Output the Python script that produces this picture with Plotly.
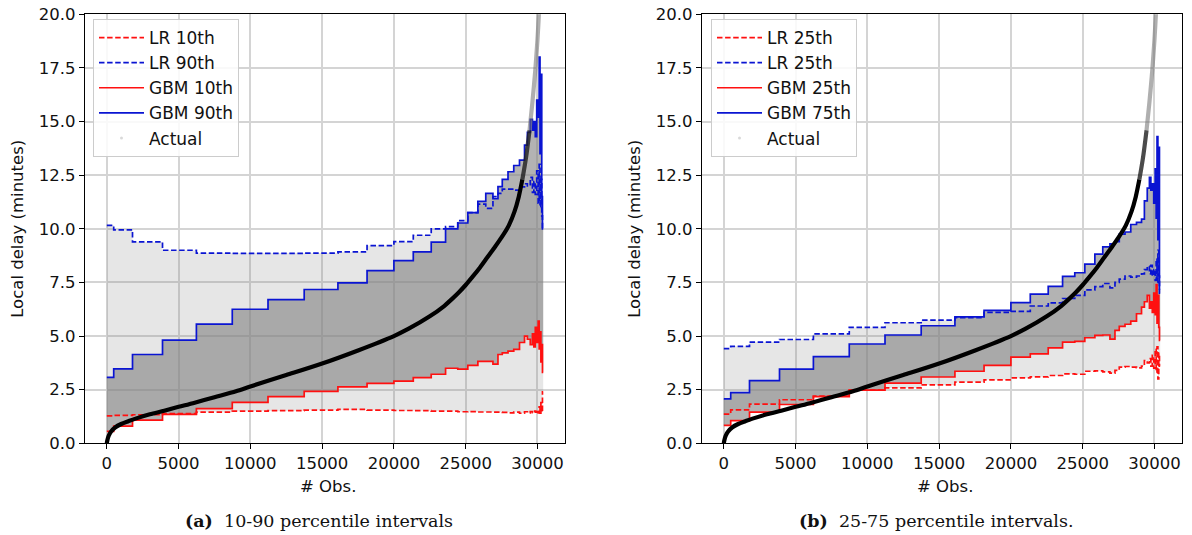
import plotly.graph_objects as go

# ---------------- data ----------------
# bin edges (# Obs.) shared by the step-wise percentile predictions
edges = [0, 480, 1790, 3880, 6240, 8740, 11230, 13750, 16100, 18130,
         20000, 21350, 22600, 23600, 24450, 25150, 25850, 26400, 26900, 27250,
         27550, 27950, 28350, 28750, 29100, 29300, 29500, 29650, 29750, 29850,
         29950, 30050, 30120, 30180, 30240, 30300, 30350, 30400]

# panel (a): 10-90 percentile intervals
a_lr10 = [1.28, 1.30, 1.33, 1.38, 1.45, 1.50, 1.52, 1.55, 1.58, 1.55,
          1.53, 1.52, 1.50, 1.50, 1.47, 1.48, 1.46, 1.46, 1.45, 1.45,
          1.44, 1.42, 1.45, 1.40, 1.47, 1.42, 1.48, 1.43, 1.50, 1.45,
          1.55, 1.42, 1.70, 1.40, 1.90, 1.45, 2.40]
a_lr90 = [10.16, 9.95, 9.39, 9.00, 8.87, 8.85, 8.85, 8.87, 8.92, 9.22,
          9.40, 9.70, 10.00, 10.10, 10.38, 10.75, 11.15, 10.95, 11.50, 11.65,
          11.85, 11.85, 11.80, 11.95, 12.10, 12.00, 12.40, 11.70, 12.20, 11.60,
          12.70, 11.20, 13.00, 11.00, 12.30, 10.60, 10.00]
a_gbm10 = [0.56, 0.80, 1.08, 1.35, 1.62, 1.91, 2.18, 2.42, 2.63, 2.79,
           2.90, 3.06, 3.22, 3.50, 3.46, 3.63, 3.82, 3.82, 3.69, 4.14,
           4.22, 4.30, 4.38, 4.70, 5.00, 4.85, 4.60, 5.10, 4.50, 5.40,
           4.70, 5.70, 4.40, 5.20, 3.80, 4.60, 3.30]
a_gbm90 = [3.07, 3.47, 4.14, 4.81, 5.56, 6.25, 6.70, 7.17, 7.48, 8.05,
           8.52, 8.92, 9.38, 10.00, 10.27, 10.75, 11.28, 11.65, 11.40, 11.97,
           12.30, 12.66, 12.95, 13.20, 13.90, 14.50, 15.10, 14.60, 15.00, 14.30,
           16.00, 15.20, 18.00, 13.50, 17.20, 11.50, 10.00]

# panel (b): 25-75 percentile intervals
b_lr25 = [1.36, 1.56, 1.83, 2.03, 2.20, 2.48, 2.58, 2.72, 2.85, 2.96,
          3.05, 3.10, 3.16, 3.24, 3.22, 3.36, 3.38, 3.33, 3.27, 3.40,
          3.55, 3.58, 3.55, 3.52, 3.60, 3.86, 3.75, 3.95, 3.60, 4.10,
          3.50, 4.40, 3.30, 4.50, 3.00, 4.20, 3.60]
b_lr75 = [4.41, 4.52, 4.72, 4.84, 5.10, 5.40, 5.62, 5.74, 5.86, 6.10,
          6.15, 6.40, 6.55, 6.75, 6.90, 7.15, 7.30, 7.45, 7.25, 7.50,
          7.65, 7.80, 7.75, 7.80, 7.90, 8.10, 8.25, 7.90, 8.30, 7.80,
          8.10, 7.60, 8.60, 7.50, 9.00, 7.80, 7.00]
b_gbm25 = [0.84, 1.06, 1.45, 1.81, 2.18, 2.48, 2.81, 3.09, 3.36, 3.63,
           4.02, 4.17, 4.45, 4.72, 4.75, 4.92, 5.03, 5.05, 4.86, 5.26,
           5.45, 5.55, 5.70, 6.04, 6.35, 6.60, 6.90, 6.30, 6.60, 6.10,
           7.00, 6.00, 7.40, 5.60, 6.90, 5.40, 4.80]
b_gbm75 = [2.07, 2.36, 2.92, 3.46, 4.04, 4.63, 5.05, 5.48, 5.89, 6.20,
           6.56, 6.95, 7.32, 7.78, 7.95, 8.35, 8.82, 9.16, 9.30, 9.40,
           9.75, 9.85, 10.20, 10.30, 10.45, 11.30, 11.90, 12.40, 11.80, 12.10,
           11.20, 12.80, 10.50, 14.30, 9.50, 13.80, 7.20]

# actual sorted local delay
act_x = [0, 30, 80, 150, 300, 600, 1000, 1500, 2000, 3000, 4000, 5000, 6000,
         7500, 9000, 10000, 12500, 15000, 17500, 20000, 21000, 22500, 23500,
         24000, 24500, 25000, 25500, 26000, 26500, 27000, 27500, 28000, 28400,
         28700, 28950, 29200, 29450, 29650, 29850, 30000, 30100, 30250]
act_y = [0.0, 0.12, 0.25, 0.38, 0.55, 0.75, 0.90, 1.03, 1.15, 1.35, 1.52, 1.70,
         1.87, 2.15, 2.43, 2.65, 3.18, 3.72, 4.33, 5.00, 5.33, 5.92, 6.40,
         6.70, 7.02, 7.38, 7.78, 8.20, 8.66, 9.12, 9.60, 10.15, 10.80,
         11.50, 12.30, 13.30, 14.60, 15.90, 17.40, 18.80, 20.00, 22.50]

x_ticks = [0, 5000, 10000, 15000, 20000, 25000, 30000]
y_ticks = [0.0, 2.5, 5.0, 7.5, 10.0, 12.5, 15.0, 17.5, 20.0]

panels = [
    dict(lr_lo=a_lr10, lr_hi=a_lr90, gb_lo=a_gbm10, gb_hi=a_gbm90,
         names=["LR 10th", "LR 90th", "GBM 10th", "GBM 90th"],
         caption="<b>(a)</b>  10-90 percentile intervals"),
    dict(lr_lo=b_lr25, lr_hi=b_lr75, gb_lo=b_gbm25, gb_hi=b_gbm75,
         names=["LR 25th", "LR 25th", "GBM 25th", "GBM 75th"],
         caption="<b>(b)</b>  25-75 percentile intervals."),
]

RED = "#ff1010"
BLUE = "#0a14d2"
W, H = 1192, 535
plot_left = [85, 702]
plot_w = 480
top_px, bot_px = 14.3, 443.3


def step_path(e, v):
    xs, ys = [], []
    for i, val in enumerate(v):
        xs += [e[i], e[i + 1]]
        ys += [val, val]
    return xs, ys


def step_xy(e, v):
    return list(e), list(v) + [v[-1]]


fig = go.Figure()
layout_axes = {}
annotations = []

for k, p in enumerate(panels):
    xa = "x" if k == 0 else "x2"
    ya = "y" if k == 0 else "y2"
    leg = "legend" if k == 0 else "legend2"

    # fills
    for lo, hi, col in [(p["lr_lo"], p["lr_hi"], "rgba(128,128,128,0.2)"),
                        (p["gb_lo"], p["gb_hi"], "rgba(128,128,128,0.6)")]:
        ux, uy = step_path(edges, hi)
        lx, ly = step_path(edges, lo)
        fig.add_trace(go.Scatter(x=ux + lx[::-1], y=uy + ly[::-1], fill="toself",
                                 fillcolor=col, line=dict(width=0), mode="lines",
                                 hoverinfo="skip", showlegend=False,
                                 xaxis=xa, yaxis=ya))

    series = [(p["lr_lo"], RED, "5.5px,2.6px"), (p["lr_hi"], BLUE, "5.5px,2.6px"),
              (p["gb_lo"], RED, "solid"), (p["gb_hi"], BLUE, "solid")]
    for (vals, col, dash), nm in zip(series, p["names"]):
        sx, sy = step_xy(edges, vals)
        fig.add_trace(go.Scatter(x=sx, y=sy, mode="lines", line_shape="hv",
                                 line=dict(color=col, width=1.7, dash=dash),
                                 name=nm, legend=leg, xaxis=xa, yaxis=ya))

    # actual curve: dense part black, sparse tail grey
    cut1 = act_x.index(28950)
    cut2 = act_x.index(29450)
    segs = [(0, cut1 + 1, "black"), (cut1, cut2 + 1, "rgba(30,30,30,0.8)"),
            (cut2, len(act_x), "rgba(110,110,110,0.55)")]
    for s0, s1, col in segs:
        fig.add_trace(go.Scatter(x=act_x[s0:s1], y=act_y[s0:s1], mode="lines",
                                 line=dict(color=col, width=4.2, shape="spline",
                                           smoothing=0.8),
                                 showlegend=False, hoverinfo="skip",
                                 xaxis=xa, yaxis=ya))
    fig.add_trace(go.Scatter(x=[None], y=[None], mode="markers", name="Actual",
                             marker=dict(size=3, color="rgba(0,0,0,0.15)"),
                             legend=leg, xaxis=xa, yaxis=ya))

    x0 = plot_left[k] / W
    x1 = (plot_left[k] + plot_w) / W
    axis_common = dict(showline=True, linecolor="black", linewidth=1.3, mirror=True,
                       ticks="outside", ticklen=5, tickwidth=1, tickcolor="black",
                       showgrid=True, gridcolor="#d4d4d4", gridwidth=1.5,
                       zeroline=False, automargin=False,
                       tickfont=dict(family="DejaVu Sans", size=16.5, color="#111111"))
    layout_axes["xaxis" if k == 0 else "xaxis2"] = dict(
        domain=[x0, x1], range=[-1520, 31920], tickvals=x_ticks,
        ticktext=[str(t) for t in x_ticks], anchor=ya, **axis_common)
    layout_axes["yaxis" if k == 0 else "yaxis2"] = dict(
        domain=[1 - bot_px / H, 1 - top_px / H], range=[0, 20], tickvals=y_ticks,
        ticktext=["%.1f" % t for t in y_ticks], anchor=xa, **axis_common)

    cx = (plot_left[k] + plot_w / 2) / W
    annotations.append(dict(text="# Obs.", x=(cx * W + 3) / W, y=1 - 486 / H,
                            xref="paper", yref="paper",
                            showarrow=False, xanchor="center", yanchor="middle",
                            font=dict(family="DejaVu Sans", size=16.5, color="#111111")))
    annotations.append(dict(text="Local delay (minutes)", x=(plot_left[k] - 67) / W,
                            y=1 - (top_px + bot_px) / 2 / H, xref="paper", yref="paper",
                            textangle=-90, showarrow=False, xanchor="center",
                            yanchor="middle",
                            font=dict(family="DejaVu Sans", size=16.5, color="#111111")))
    annotations.append(dict(text=p["caption"], x=(cx * W - 6) / W, y=1 - 521 / H,
                            xref="paper", yref="paper", showarrow=False,
                            xanchor="center", yanchor="middle",
                            font=dict(family="DejaVu Serif", size=17.5, color="#111111")))

legend_common = dict(bgcolor="rgba(255,255,255,0.85)", bordercolor="#cccccc",
                     borderwidth=1, font=dict(family="DejaVu Sans", size=17,
                                              color="#111111"),
                     xanchor="left", yanchor="top", tracegroupgap=0,
                     itemwidth=45)

fig.update_layout(
    template="none",
    width=W, height=H, margin=dict(l=0, r=0, t=0, b=0, pad=0),
    plot_bgcolor="white", paper_bgcolor="white",
    font=dict(family="DejaVu Sans", color="#111111"),
    legend=dict(x=93 / W, y=1 - 19 / H, **legend_common),
    legend2=dict(x=711 / W, y=1 - 19 / H, **legend_common),
    annotations=annotations,
    **layout_axes,
)

fig.write_html("out.html", config={"displayModeBar": False},
               post_script="document.body.style.margin='0';"
                           "document.body.style.overflow='hidden';")
